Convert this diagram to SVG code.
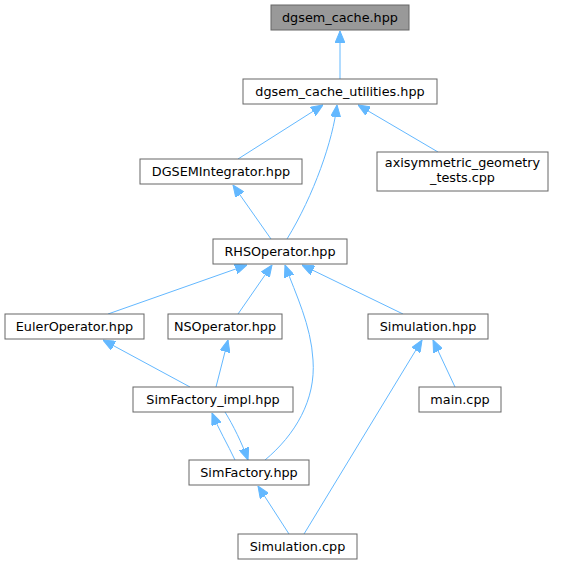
<svg xmlns="http://www.w3.org/2000/svg" width="566" height="564" viewBox="0 0 566 564">
<style>
.n rect{fill:#ffffff;stroke:#666666;stroke-width:1}
.root rect{fill:#999999}
text{font-family:"DejaVu Sans",Verdana,sans-serif;font-size:12.8px;fill:#000000;text-anchor:middle}
.e path{fill:none;stroke:#63b8ff;stroke-width:1;marker-end:url(#ah)}
</style>
<defs>
<marker id="ah" viewBox="0 0 12 10" refX="12" refY="5" markerWidth="12" markerHeight="10" markerUnits="userSpaceOnUse" orient="auto">
<path d="M0,0 L12,5 L0,10 z" fill="#63b8ff" stroke="#63b8ff" stroke-width="1"/>
</marker>
</defs>
<rect width="566" height="564" fill="#ffffff"/>
<g id="edges" class="e">
<path d="M340,79 L340,31"/>
<path d="M238,159 L323,105"/>
<path d="M287,239 C314,195 333,140 337,105"/>
<path d="M438,152 L358,105"/>
<path d="M271,239 L233,185"/>
<path d="M108,314 L247,265"/>
<path d="M238,314 L272,265"/>
<path d="M403,314 L302,265"/>
<path d="M265,460 C295,435 316,400 313,360 C311,325 296,295 285,265"/>
<path d="M190,387 L103,340"/>
<path d="M216,387 L228,340"/>
<path d="M235,460 C228,445 218,428 212,413"/>
<path d="M225,412 C233,425 242,443 248,460"/>
<path d="M289,534 L258,486"/>
<path d="M304,534 L422,340"/>
<path d="M455,387 L433,340"/>
</g>
<g id="dgsem_cache" class="n root"><rect x="271" y="5" width="138" height="25"/><text x="340" y="21.5">dgsem_cache.hpp</text></g>
<g id="dgsem_cache_utilities" class="n"><rect x="243" y="79" width="194" height="25"/><text x="340" y="95.5">dgsem_cache_utilities.hpp</text></g>
<g id="DGSEMIntegrator" class="n"><rect x="140" y="159" width="162" height="25"/><text x="221" y="175.5">DGSEMIntegrator.hpp</text></g>
<g id="axisymmetric_geometry_tests" class="n"><rect x="377" y="152" width="171" height="39"/><text x="462.5" y="167">axisymmetric_geometry</text><text x="462.5" y="182">_tests.cpp</text></g>
<g id="RHSOperator" class="n"><rect x="213" y="239" width="134" height="25"/><text x="280" y="255.5">RHSOperator.hpp</text></g>
<g id="EulerOperator" class="n"><rect x="5" y="314" width="139" height="25"/><text x="74.5" y="330.5">EulerOperator.hpp</text></g>
<g id="NSOperator" class="n"><rect x="168" y="314" width="114" height="25"/><text x="225" y="330.5">NSOperator.hpp</text></g>
<g id="Simulation_hpp" class="n"><rect x="368" y="314" width="120" height="25"/><text x="428" y="330.5">Simulation.hpp</text></g>
<g id="SimFactory_impl" class="n"><rect x="133" y="387" width="160" height="25"/><text x="213" y="403.5">SimFactory_impl.hpp</text></g>
<g id="main_cpp" class="n"><rect x="419" y="387" width="82" height="25"/><text x="460" y="403.5">main.cpp</text></g>
<g id="SimFactory" class="n"><rect x="189" y="460" width="120" height="25"/><text x="249" y="476.5">SimFactory.hpp</text></g>
<g id="Simulation_cpp" class="n"><rect x="238" y="534" width="119" height="25"/><text x="297.5" y="550.5">Simulation.cpp</text></g>
</svg>
